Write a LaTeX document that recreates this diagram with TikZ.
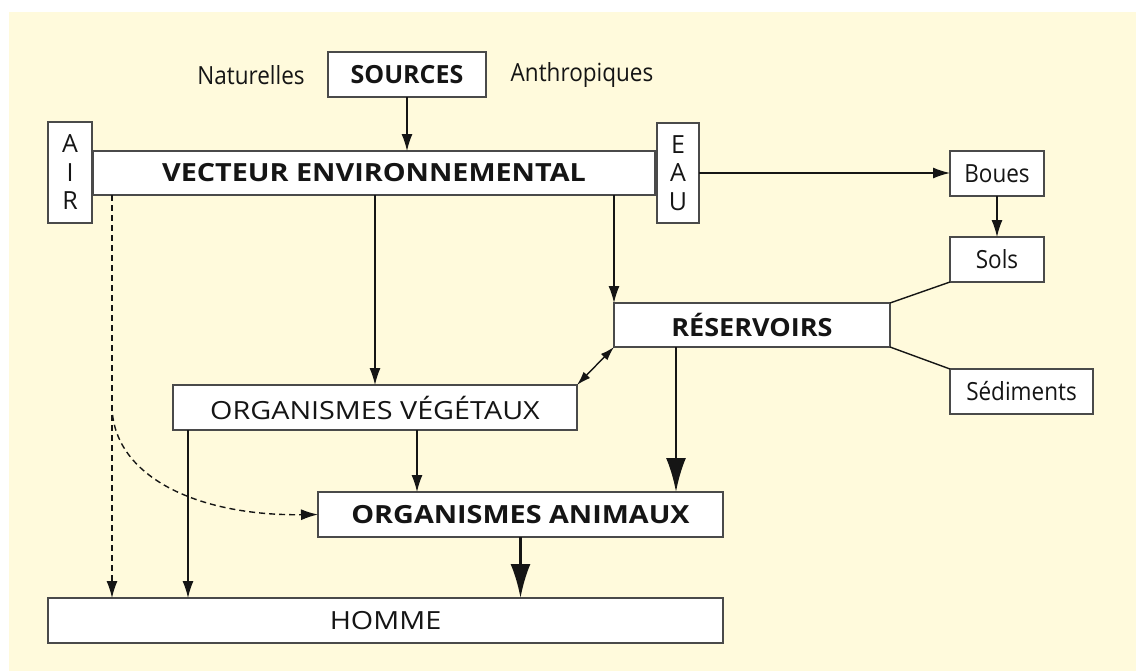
\documentclass[tikz,border=0pt]{standalone}
\usepackage{fontspec}
\setmainfont{Open Sans}
\newfontfamily\wideF[FakeStretch=1.15]{Open Sans}
\newfontfamily\midF[FakeStretch=1.08]{Open Sans}
\newfontfamily\narrowF[FakeStretch=0.9]{Open Sans}
\usetikzlibrary{arrows.meta,calc}
\definecolor{bgyellow}{HTML}{FFFADC}
\definecolor{boxline}{HTML}{4A4A4A}
\definecolor{ink}{HTML}{151515}
\tikzset{
  box/.style={draw=boxline, line width=1pt, fill=white, inner sep=0pt, outer sep=0pt,
              text=ink, font=\fontsize{12.5}{14.25}\selectfont, align=center},
  capbox/.style={box, font=\wideF\fontsize{12.5}{14.25}\selectfont},
  bcapbox/.style={box, font=\wideF\fontsize{12.5}{14.25}\selectfont\bfseries},
  bbox/.style={box, font=\fontsize{12.5}{14.25}\selectfont\bfseries},
  lowbox/.style={box, font=\narrowF\fontsize{12.5}{14.25}\selectfont},
  lab/.style={inner sep=0pt, text=ink, font=\narrowF\fontsize{12.5}{14.25}\selectfont},
  arr/.style={draw=ink, line width=0.7pt, -{Latex[length=8.5pt,width=5.5pt]}},
  darr/.style={draw=ink, line width=0.7pt, {Latex[length=7pt,width=4.5pt]}-{Latex[length=7pt,width=4.5pt]}},
  bigarr/.style={draw=ink, line width=1.4pt, -{Latex[length=17pt,width=10pt]}},
  link/.style={draw=ink, line width=0.7pt},
  dasharr/.style={arr, dash pattern=on 3pt off 2pt},
}
\begin{document}
\begin{tikzpicture}[x=0.5pt,y=-0.5pt]
\useasboundingbox (0,0) rectangle (1136,671);
\fill[bgyellow] (9,12) rectangle (1136,671);

% nodes
\node[bbox, minimum width=79pt, minimum height=22.5pt] (src) at (407,74.5) {SOURCES};
\node[lab] (nat) at (251,75) {Naturelles};
\node[lab] (anth) at (582,75) {Anthropiques};
\node[bcapbox, minimum width=281pt, minimum height=22pt] (vec) at (374,173) {VECTEUR ENVIRONNEMENTAL};
\node[box, minimum width=22pt, minimum height=50.5pt] (air) at (70,172.5) {A\\I\\R};
\node[box, minimum width=21pt, minimum height=50pt] (eau) at (678,173) {E\\A\\U};
\node[lowbox, minimum width=47pt, minimum height=22.5pt] (boues) at (997,173.5) {Boues};
\node[lowbox, minimum width=47pt, minimum height=22.5pt] (sols) at (997,259.5) {Sols};
\node[box, font=\midF\fontsize{12.5}{14.25}\selectfont\bfseries, minimum width=138pt, minimum height=22pt] (res) at (752,325) {RÉSERVOIRS};
\node[lowbox, minimum width=71.5pt, minimum height=22.5pt] (sed) at (1021.5,391.5) {Sédiments};
\node[capbox, minimum width=202pt, minimum height=22.5pt] (veg) at (375,407.5) {ORGANISMES VÉGÉTAUX};
\node[bcapbox, minimum width=202.5pt, minimum height=22.5pt] (ani) at (520.5,514.5) {ORGANISMES ANIMAUX};
\node[capbox, minimum width=337.5pt, minimum height=22.5pt] (hom) at (385.5,620.5) {HOMME};

% helper coordinates
\coordinate (v2a) at ([xshift=122pt]veg.south west);
\coordinate (v2h) at ([xshift=7.5pt]veg.south west);
\coordinate (r2a) at ([xshift=31pt]res.south west);
\coordinate (a2h) at ([xshift=9.5pt]vec.south west);
\coordinate (split) at (112,405);

% connectors
\draw[arr] (src.south) -- (src.south |- vec.north);
\draw[arr] (eau.east) -- (eau.east -| boues.west);
\draw[arr] (boues.south) -- (sols.north);
\draw[link] (sols.south west) -- (res.north east);
\draw[link] (res.south east) -- (sed.north west);
\draw[arr] (res.north west |- vec.south) -- (res.north west);
\draw[arr] (veg.north |- vec.south) -- (veg.north);
\draw[darr] (res.south west) -- (veg.north east);
\draw[bigarr] (r2a) -- (r2a |- ani.north);
\draw[arr] (v2a) -- (v2a |- ani.north);
\draw[bigarr] (ani.south) -- (ani.south |- hom.north);
\draw[arr] (v2h) -- (v2h |- hom.north);
\draw[dasharr] (a2h) -- (a2h |- hom.north);
\draw[dasharr] (split) .. controls (112,475) and (195,516) .. (ani.west);
\end{tikzpicture}
\end{document}
